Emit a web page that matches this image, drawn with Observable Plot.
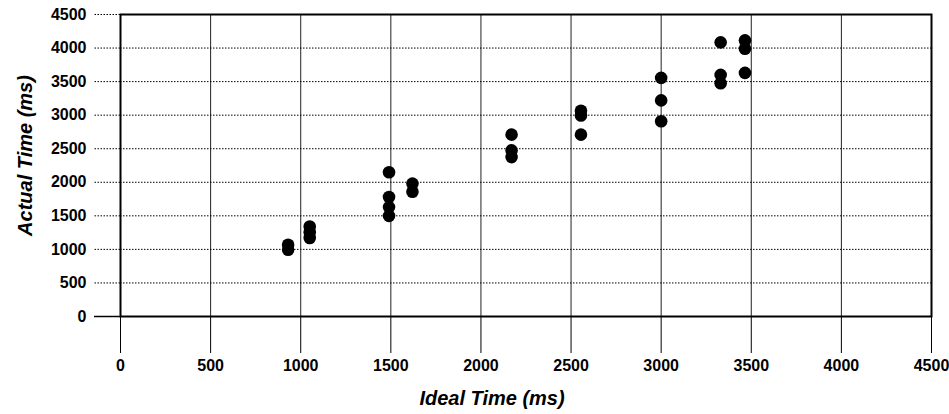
<!DOCTYPE html>
<html><head><meta charset="utf-8">
<script src="https://cdn.jsdelivr.net/npm/d3@7"></script>
<script src="https://cdn.jsdelivr.net/npm/@observablehq/plot@0.6"></script>
<style>body{margin:0;background:#fff}</style>
</head><body><div id="chart"></div>
<script>
const idealTime  = [930, 930, 1050, 1050, 1050, 1490, 1490, 1490, 1490, 1620, 1620, 2170, 2170, 2170, 2555, 2555, 2555, 3000, 3000, 3000, 3330, 3330, 3330, 3465, 3465, 3465];
const actualTime = [1070, 995, 1340, 1255, 1170, 2150, 1780, 1630, 1500, 1980, 1860, 2710, 2475, 2375, 3065, 2995, 2710, 3555, 3220, 2910, 4085, 3600, 3475, 4115, 3990, 3630];
const xTicks = [0, 500, 1000, 1500, 2000, 2500, 3000, 3500, 4000, 4500];
const yTicks = [0, 500, 1000, 1500, 2000, 2500, 3000, 3500, 4000, 4500];
const xTitle = "Ideal Time (ms)";
const yTitle = "Actual Time (ms)";

const data = idealTime.map((x, i) => ({x, y: actualTime[i]}));
const font = "'Liberation Sans', Arial, Helvetica, sans-serif";
const fmt = d => String(d);

const chart = Plot.plot({
  width: 949, height: 414,
  marginLeft: 120, marginRight: 18, marginTop: 14, marginBottom: 98,
  x: {domain: [0, 4500]},
  y: {domain: [0, 4500]},
  style: {fontFamily: font, fontWeight: "bold", fontSize: "16px", color: "black", background: "white"},
  marks: [
    Plot.gridX(xTicks, {stroke: "#222", strokeOpacity: 1, strokeWidth: 1}),
    Plot.gridY(yTicks, {stroke: "#000", strokeOpacity: 1, strokeWidth: 1, strokeDasharray: "1.5,1.5"}),
    Plot.axisX(xTicks, {tickSize: 37, tickPadding: 6, tickFormat: fmt, label: null, fontSize: 16, fontWeight: "bold"}),
    Plot.axisY(yTicks, {tickSize: 26, tickPadding: 8, tickFormat: fmt, label: null, fontSize: 16, fontWeight: "bold", strokeDasharray: "1.5,1.5"}),
    Plot.axisY([0], {tickSize: 26, tickFormat: () => "", label: null, strokeWidth: 1.5}),
    Plot.frame({stroke: "black", strokeWidth: 2}),
    Plot.dot(data, {x: "x", y: "y", r: 6.3, fill: "black", stroke: "none"}),
    Plot.text([xTitle], {text: d => d, frameAnchor: "bottom", textAnchor: "middle", dy: 88, dx: -34, fontSize: 20, fontWeight: "bold", fontStyle: "italic"}),
    Plot.text([yTitle], {text: d => d, frameAnchor: "left", textAnchor: "middle", dx: -95, dy: -10, rotate: -90, fontSize: 20, fontWeight: "bold", fontStyle: "italic"})
  ]
});
document.getElementById("chart").appendChild(chart);
</script>
</body></html>
